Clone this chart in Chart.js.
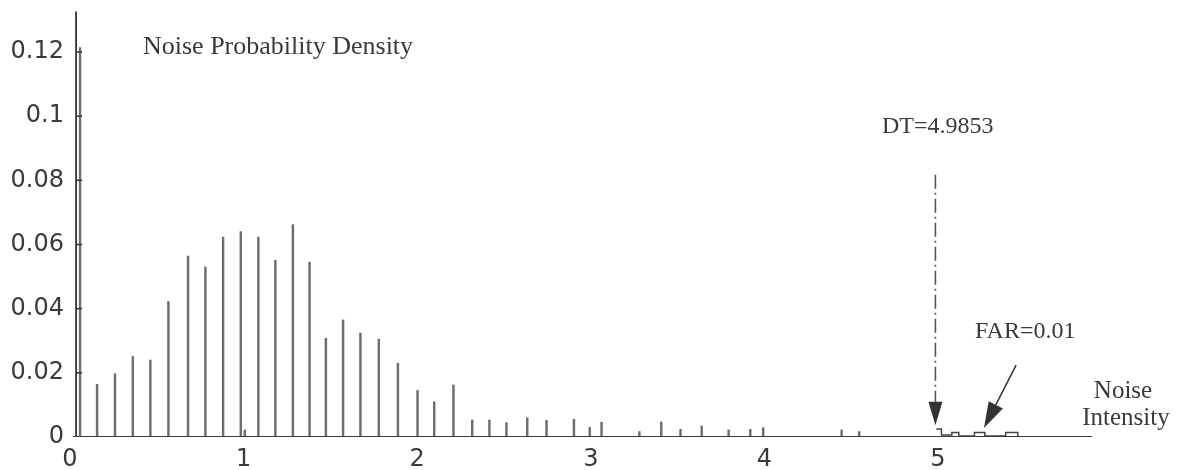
<!DOCTYPE html>
<html>
<head>
<meta charset="utf-8">
<script src="https://cdn.jsdelivr.net/npm/chart.js@4/dist/chart.umd.min.js"></script>
<style>
  html, body { margin: 0; padding: 0; background: #fff; }
  canvas { display: block; }
</style>
</head>
<body>
<canvas id="chart" width="1181" height="470"></canvas>
<script>
// Stem positions (noise intensity) and heights (probability density)
const stemX = [0.058, 0.156, 0.259, 0.362, 0.463, 0.567, 0.680, 0.780, 0.882, 0.984,
  1.007, 1.085, 1.183, 1.284, 1.380, 1.474, 1.573, 1.673, 1.779, 1.889,
  2.002, 2.098, 2.209, 2.317, 2.416, 2.514, 2.634, 2.745, 2.903, 2.994,
  3.062, 3.280, 3.406, 3.517, 3.639, 3.794, 3.919, 3.993, 4.445, 4.546];
const stemY = [0.1214, 0.0164, 0.0197, 0.0251, 0.0240, 0.0422, 0.0564, 0.0530, 0.0623, 0.0640,
  0.0022, 0.0623, 0.0551, 0.0662, 0.0545, 0.0308, 0.0365, 0.0324, 0.0305, 0.0230,
  0.0145, 0.0110, 0.0162, 0.0053, 0.0053, 0.0045, 0.0060, 0.0052, 0.0055, 0.0030,
  0.0046, 0.0017, 0.0047, 0.0024, 0.0034, 0.0022, 0.0024, 0.0029, 0.0022, 0.0017];

// tail beyond the threshold (the false alarm area)
const tailX = [4.99, 5.02, 5.08, 5.12, 5.21, 5.27, 5.39, 5.46, 5.67];
const tailY = [0.0025, 0.0006, 0.0014, 0.0003, 0.0014, 0.0003, 0.0014, 0, 0];

const yTicks = [0, 0.02, 0.04, 0.06, 0.08, 0.1, 0.12];
const xTicks = [0, 1, 2, 3, 4, 5];

const threshold = 4.9853;   // DT
const thresholdTop = 0.0817;
const farLabel = "FAR=0.01";
const dtLabel = "DT=4.9853";

const axisStart = 0.017, axisEnd = 5.887;   // drawn extent of the x axis
const yAxisAt = 0.035, yAxisTop = 0.1326;

const ink = "#3a3a3a";
const serif = "'Liberation Serif', 'DejaVu Serif', serif";

// extra drawing: y axis ticks pointing inward, arrows and the annotations
const annotations = {
  id: "annotations",
  afterDatasetsDraw(chart) {
    const { ctx, scales: { x, y } } = chart;
    ctx.save();
    const ax = x.getPixelForValue(yAxisAt);
    ctx.strokeStyle = "#333";
    ctx.lineWidth = 1.5;
    yTicks.slice(1).forEach(v => {
      const py = y.getPixelForValue(v);
      ctx.beginPath();
      ctx.moveTo(ax, py);
      ctx.lineTo(ax + 6, py);
      ctx.stroke();
    });

    // DT arrow head
    const dx = x.getPixelForValue(threshold);
    const headTop = y.getPixelForValue(0.011);
    const headTip = y.getPixelForValue(0.0037);
    ctx.fillStyle = "#333";
    ctx.beginPath();
    ctx.moveTo(dx - 7, headTop);
    ctx.lineTo(dx + 7, headTop);
    ctx.lineTo(dx, headTip);
    ctx.closePath();
    ctx.fill();

    // FAR arrow
    const fx0 = x.getPixelForValue(5.45), fy0 = y.getPixelForValue(0.0224);
    const fx1 = x.getPixelForValue(5.265), fy1 = y.getPixelForValue(0.0028);
    const ang = Math.atan2(fy1 - fy0, fx1 - fx0);
    const hl = 26, hw = 8;
    const bx = fx1 - hl * Math.cos(ang), by = fy1 - hl * Math.sin(ang);
    ctx.lineWidth = 1.5;
    ctx.beginPath();
    ctx.moveTo(fx0, fy0);
    ctx.lineTo(bx, by);
    ctx.stroke();
    ctx.beginPath();
    ctx.moveTo(fx1, fy1);
    ctx.lineTo(bx + hw * Math.sin(ang), by - hw * Math.cos(ang));
    ctx.lineTo(bx - hw * Math.sin(ang), by + hw * Math.cos(ang));
    ctx.closePath();
    ctx.fill();

    // texts
    ctx.fillStyle = ink;
    ctx.textBaseline = "alphabetic";
    ctx.textAlign = "left";
    ctx.font = "26px " + serif;
    ctx.fillText("Noise Probability Density", 143, 54);
    ctx.font = "24px " + serif;
    ctx.fillText(dtLabel, 882, 133);
    ctx.fillText(farLabel, 975, 338);
    ctx.textAlign = "center";
    ctx.font = "25px " + serif;
    ctx.fillText("Noise", 1123, 398);
    ctx.fillText("Intensity", 1126, 425);
    ctx.restore();
  }
};

// drop the label margins Chart.js reserves so the plot area fills the canvas
function noMargins(scale) {
  scale.paddingTop = 0;
  scale.paddingBottom = 0;
  scale.paddingLeft = 0;
  scale.paddingRight = 0;
}

const canvas = document.getElementById("chart").getContext("2d");
const chartSetup = {
  type: "bar",
  data: {
    datasets: [
      {
        label: "density",
        data: stemX.map((v, i) => ({ x: v, y: stemY[i] })),
        backgroundColor: "#6e6e6e",
        borderWidth: 0,
        barThickness: 1.8,
        order: 2,
      },
      {
        type: "line",
        label: "x axis",
        data: [{ x: axisStart, y: 0 }, { x: axisEnd, y: 0 }],
        borderColor: "#3a3a3a",
        borderWidth: 2,
        pointRadius: 0,
        order: 1,
      },
      {
        type: "line",
        label: "y axis",
        data: [{ x: yAxisAt, y: 0 }, { x: yAxisAt, y: yAxisTop }],
        borderColor: "#333",
        borderWidth: 1.8,
        pointRadius: 0,
        order: 1,
      },
      {
        type: "line",
        label: "DT",
        data: [{ x: threshold, y: thresholdTop }, { x: threshold, y: 0.011 }],
        borderColor: "#555",
        borderWidth: 1.6,
        borderDash: [14, 4, 2, 4],
        pointRadius: 0,
        order: 1,
      },
      {
        type: "line",
        label: "tail",
        data: tailX.map((v, i) => ({ x: v, y: tailY[i] })),
        borderColor: "#444",
        borderWidth: 1.5,
        stepped: true,
        pointRadius: 0,
        order: 1,
      },
    ],
  },
  options: {
    responsive: false,
    animation: false,
    devicePixelRatio: 1,
    layout: { padding: 0 },
    plugins: {
      legend: { display: false },
      tooltip: { enabled: false },
    },
    scales: {
      x: {
        type: "linear",
        offset: false,
        min: 0,
        max: 6.4,
        border: { display: false },
        grid: { display: false, drawTicks: false },
        afterFit: (scale) => { scale.height = 33; noMargins(scale); },
        afterBuildTicks: (scale) => { scale.ticks = xTicks.map(v => ({ value: v })); },
        ticks: {
          padding: 8,
          maxRotation: 0,
          autoSkip: false,
          color: ink,
          font: { family: "'DejaVu Sans'", size: 24 },
          callback: (v) => String(v),
        },
      },
      y: {
        min: 0,
        max: 0.1362,
        border: { display: false },
        grid: { display: false, drawTicks: false },
        afterFit: (scale) => { scale.width = 70; noMargins(scale); },
        afterBuildTicks: (scale) => { scale.ticks = yTicks.map(v => ({ value: v })); },
        ticks: {
          padding: 6,
          color: ink,
          font: { family: "'DejaVu Sans'", size: 24 },
          callback: (v) => String(+v.toFixed(2)),
        },
      },
    },
  },
  plugins: [annotations],
};
const myChart = new Chart(canvas, chartSetup);
</script>
</body>
</html>
